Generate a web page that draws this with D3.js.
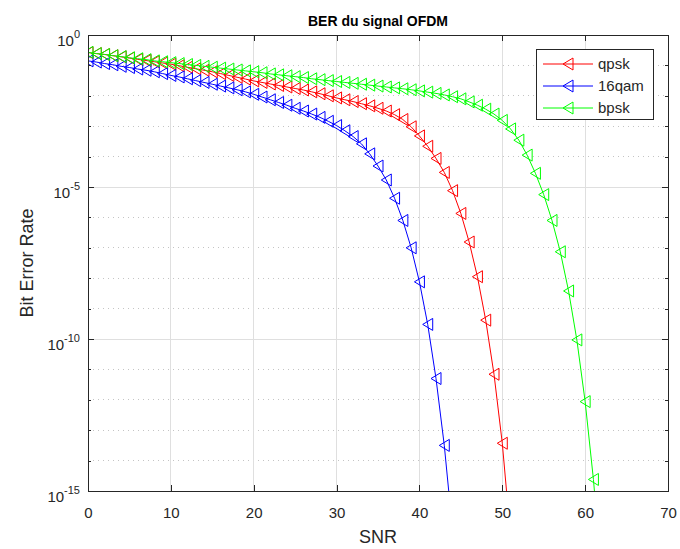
<!DOCTYPE html>
<meta charset="utf-8">
<style>

    body {
        margin: 0;
        background: #fff;
    }

    text {
        font-family: "Liberation Sans", Arial, Helvetica, sans-serif;
        fill: #262626;
    }

    .axis path,
    .axis line {
        fill: none;
        stroke: #262626;
        shape-rendering: crispEdges;
    }

    .grid line {
        stroke: #dfdfdf;
        shape-rendering: crispEdges;
    }

    .grid .minor {
        stroke: #c4c4c4;
        stroke-dasharray: 1,4;
    }

</style>
<body>
<script src="https://d3js.org/d3.v7.min.js"></script>
<script>

    // SNR values (x) shared by the three curves
    var snr = [0,1,2,3,4,5,6,7,8,9,10,11,12,13,14,15,16,17,18,19,20,
        21,22,23,24,25,26,27,28,29,30,31,32,33,34,35,36,37,38,39,40,
        41,42,43,44,45,46,47,48,49,50,51,52,53,54,55,56,57,58,59,60,61,62];

    var berQpsk = [2.63e-1,2.45e-1,2.29e-1,2.09e-1,1.91e-1,1.74e-1,1.58e-1,1.45e-1,1.32e-1,1.20e-1,
        1.10e-1,9.77e-2,8.71e-2,7.76e-2,6.92e-2,6.17e-2,5.37e-2,4.68e-2,4.07e-2,3.55e-2,
        3.09e-2,2.75e-2,2.45e-2,2.19e-2,1.95e-2,1.74e-2,1.55e-2,1.35e-2,1.17e-2,1.00e-2,
        8.51e-3,7.41e-3,6.46e-3,5.50e-3,4.68e-3,3.89e-3,3.16e-3,2.40e-3,1.66e-3,9.55e-4,
        4.79e-4,2.19e-4,8.71e-5,3.02e-5,7.59e-6,1.35e-6,1.55e-7,1.12e-8,4.17e-10,6.92e-12,
        3.72e-14,3.16e-17];

    var ber16qam = [1.41e-1,1.29e-1,1.15e-1,1.05e-1,9.33e-2,8.51e-2,7.59e-2,6.92e-2,6.17e-2,5.37e-2,
        4.68e-2,4.17e-2,3.63e-2,3.16e-2,2.75e-2,2.40e-2,2.09e-2,1.82e-2,1.58e-2,1.35e-2,
        1.12e-2,9.12e-3,7.41e-3,6.03e-3,4.90e-3,3.89e-3,3.16e-3,2.51e-3,1.95e-3,1.45e-3,
        1.05e-3,7.08e-4,4.57e-4,2.63e-4,1.23e-4,4.90e-5,1.70e-5,4.27e-6,7.94e-7,1.00e-7,
        7.59e-9,3.02e-10,5.01e-12,3.16e-14,5.01e-17];

    var berBpsk = [2.69e-1,2.45e-1,2.29e-1,2.09e-1,1.95e-1,1.78e-1,1.66e-1,1.55e-1,1.41e-1,1.32e-1,
        1.23e-1,1.15e-1,1.07e-1,1.00e-1,9.33e-2,8.71e-2,8.13e-2,7.59e-2,7.08e-2,6.61e-2,
        6.17e-2,5.75e-2,5.25e-2,4.90e-2,4.57e-2,4.27e-2,3.98e-2,3.63e-2,3.39e-2,3.16e-2,
        2.95e-2,2.75e-2,2.57e-2,2.40e-2,2.24e-2,2.09e-2,1.95e-2,1.82e-2,1.70e-2,1.58e-2,
        1.45e-2,1.32e-2,1.20e-2,1.07e-2,9.33e-3,7.94e-3,6.31e-3,4.90e-3,3.63e-3,2.51e-3,
        1.55e-3,8.13e-4,3.47e-4,1.12e-4,2.82e-5,5.62e-6,7.94e-7,7.41e-8,3.80e-9,9.33e-11,
        8.71e-13,2.40e-15,1.58e-18];

    var seriesNames = ["qpsk", "16qam", "bpsk"];
    var seriesColors = ["#ff0000", "#0000ff", "#00ff00"];

    var xTicks = [0,10,20,30,40,50,60,70];
    var yTicks = [1e-15,1e-10,1e-5,1];
    var yMinor = [1e-14,1e-13,1e-12,1e-11,1e-9,1e-8,1e-7,1e-6,1e-4,1e-3,1e-2,1e-1];

    var width = 680,
        height = 549,
        margin = {top: 35, right: 12, bottom: 58, left: 88},
        w = width - margin.left - margin.right,
        h = height - margin.top - margin.bottom;

    var x = d3.scaleLinear().domain([0, 70]).range([0, w]);
    var y = d3.scaleLog().domain([1e-15, 1]).range([h, 0]);

    var svg = d3.select("body").append("svg")
        .attr("width", width)
        .attr("height", height);

    var g = svg.append("g")
        .attr("transform", "translate(" + margin.left + "," + margin.top + ")");

    g.append("rect")
        .attr("width", w)
        .attr("height", h)
        .attr("fill", "#fff");

    // grid
    var grid = g.append("g").attr("class", "grid");
    grid.selectAll(".minor")
        .data(yMinor)
        .enter().append("line")
        .attr("class", "minor")
        .attr("x1", 0).attr("x2", w)
        .attr("y1", function(d) { return y(d); })
        .attr("y2", function(d) { return y(d); });
    grid.selectAll(".vx")
        .data(xTicks.slice(1, -1))
        .enter().append("line")
        .attr("class", "vx")
        .attr("x1", function(d) { return x(d); })
        .attr("x2", function(d) { return x(d); })
        .attr("y1", 0).attr("y2", h);
    grid.selectAll(".hy")
        .data(yTicks.slice(1, -1))
        .enter().append("line")
        .attr("class", "hy")
        .attr("x1", 0).attr("x2", w)
        .attr("y1", function(d) { return y(d); })
        .attr("y2", function(d) { return y(d); });

    // curves
    g.append("clipPath").attr("id", "clip")
        .append("rect").attr("width", w).attr("height", h);

    var series = [berQpsk, ber16qam, berBpsk].map(function(vals, k) {
        return {
            name: seriesNames[k],
            color: seriesColors[k],
            points: vals.map(function(v, i) { return {x: snr[i], y: v}; })
        };
    });

    var line = d3.line()
        .x(function(d) { return x(d.x); })
        .y(function(d) { return y(d.y); });

    // left-pointing triangle marker, centred on the point
    function tri(cx, cy) {
        return "M" + (cx - 5) + "," + cy +
            "L" + (cx + 5) + "," + (cy - 6) +
            "L" + (cx + 5) + "," + (cy + 6) + "Z";
    }

    var plot = g.append("g").attr("clip-path", "url(#clip)");

    var sg = plot.selectAll(".series")
        .data(series)
        .enter().append("g")
        .attr("class", "series");

    sg.append("path")
        .attr("fill", "none")
        .attr("stroke", function(d) { return d.color; })
        .attr("stroke-width", 1)
        .attr("d", function(d) { return line(d.points); });

    sg.each(function(s) {
        d3.select(this).selectAll(".m")
            .data(s.points)
            .enter().append("path")
            .attr("class", "m")
            .attr("fill", "none")
            .attr("stroke", s.color)
            .attr("stroke-width", 1)
            .attr("d", function(d) { return tri(x(d.x), y(d.y)); });
    });

    // axes
    g.append("g")
        .attr("class", "axis")
        .attr("transform", "translate(0," + h + ")")
        .call(d3.axisBottom(x).tickValues(xTicks).tickSizeInner(-6).tickSizeOuter(0).tickPadding(16))
        .call(function(a) { a.selectAll("text").style("font-size", "15px"); });

    g.append("g")
        .attr("class", "axis")
        .call(d3.axisTop(x).tickValues(xTicks).tickSizeInner(-6).tickSizeOuter(0).tickFormat(""));

    var yl = g.append("g")
        .attr("class", "axis")
        .call(d3.axisLeft(y).tickValues(yTicks).tickSizeInner(-6).tickSizeOuter(0).tickFormat(""));

    yl.selectAll(".tick").append("text")
        .attr("x", -8)
        .attr("y", 10)
        .attr("text-anchor", "end")
        .style("font-size", "15px")
        .each(function(d) {
            var t = d3.select(this);
            t.append("tspan").text("10");
            t.append("tspan")
                .attr("dy", -8)
                .style("font-size", "11px")
                .text(Math.round(Math.log10(d)));
        });

    g.append("g")
        .attr("class", "axis")
        .call(d3.axisLeft(y).tickValues(yMinor).tickSizeInner(-3).tickSizeOuter(0).tickFormat(""))
        .select(".domain").remove();

    g.append("g")
        .attr("class", "axis")
        .attr("transform", "translate(" + w + ",0)")
        .call(d3.axisRight(y).tickValues(yTicks).tickSizeInner(-6).tickSizeOuter(0).tickFormat(""));

    g.append("g")
        .attr("class", "axis")
        .attr("transform", "translate(" + w + ",0)")
        .call(d3.axisRight(y).tickValues(yMinor).tickSizeInner(-3).tickSizeOuter(0).tickFormat(""))
        .select(".domain").remove();

    // labels
    svg.append("text")
        .attr("x", margin.left + w / 2)
        .attr("y", 26)
        .attr("text-anchor", "middle")
        .style("font-size", "14px")
        .style("font-weight", "bold")
        .style("fill", "#000")
        .text("BER du signal OFDM");

    svg.append("text")
        .attr("x", margin.left + w / 2)
        .attr("y", 543)
        .attr("text-anchor", "middle")
        .style("font-size", "18px")
        .text("SNR");

    svg.append("text")
        .attr("transform", "translate(33," + (margin.top + h / 2) + ") rotate(-90)")
        .attr("text-anchor", "middle")
        .style("font-size", "18px")
        .text("Bit Error Rate");

    // legend
    var legend = svg.append("g")
        .attr("transform", "translate(536,49)");

    legend.append("rect")
        .attr("width", 117)
        .attr("height", 70)
        .attr("fill", "#fff")
        .attr("stroke", "#262626")
        .attr("shape-rendering", "crispEdges");

    var li = legend.selectAll(".item")
        .data(series)
        .enter().append("g")
        .attr("class", "item")
        .attr("transform", function(d, i) { return "translate(0," + (15 + i * 22) + ")"; });

    li.append("line")
        .attr("x1", 7).attr("x2", 57)
        .attr("stroke", function(d) { return d.color; });

    li.append("path")
        .attr("fill", "none")
        .attr("stroke", function(d) { return d.color; })
        .attr("d", tri(32, 0));

    li.append("text")
        .attr("x", 62)
        .attr("dy", "0.35em")
        .style("font-size", "15px")
        .text(function(d) { return d.name; });

</script>
